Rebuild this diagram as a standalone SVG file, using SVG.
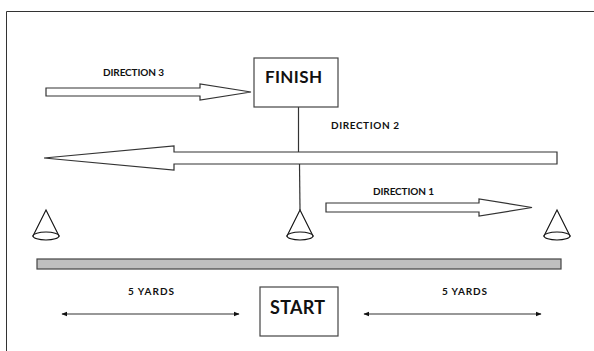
<svg xmlns="http://www.w3.org/2000/svg" width="594" height="351" viewBox="0 0 594 351">
<style>
.lbl{font-family:Lato,"Open Sans","Liberation Sans",sans-serif;font-weight:bold;fill:#111}
.s{font-size:10px}
.b{font-size:17px}
.arrow{fill:#fff;stroke:#333;stroke-width:1.2}
.box{fill:#fff;stroke:#444;stroke-width:1.2}
.line{stroke:#333;stroke-width:1.2;fill:none}
.cone{fill:#fff;stroke:#111;stroke-width:1.1}
</style>
<defs>
<marker id="ah" viewBox="0 0 10 10" refX="9" refY="5" markerWidth="5" markerHeight="5" orient="auto-start-reverse">
<path d="M0,1 L10,5 L0,9 z" fill="#111"/>
</marker>
</defs>
<rect width="594" height="351" fill="#fff"/>
<path d="M6.5,351 V11.5 H594" fill="none" stroke="#333" stroke-width="1"/>

<g id="connectors">
<line class="line" x1="298.5" y1="107" x2="298.5" y2="152"/>
<line class="line" x1="299.5" y1="164" x2="300" y2="210"/>
<line class="line" x1="62" y1="314" x2="239" y2="314" marker-start="url(#ah)" marker-end="url(#ah)"/>
<line class="line" x1="364" y1="314" x2="541" y2="314" marker-start="url(#ah)" marker-end="url(#ah)"/>
</g>

<g id="direction3">
<polygon class="arrow" points="46,88 200,88 200,84 251,92 200,100 200,96 46,96"/>
<text class="lbl s" x="103" y="75.5" textLength="61">DIRECTION 3</text>
</g>

<g id="direction2">
<polygon class="arrow" points="557,152 174,152 174,146 44,158 174,170 174,164 557,164"/>
<text class="lbl s" x="331" y="128.5" textLength="68">DIRECTION 2</text>
</g>

<g id="direction1">
<polygon class="arrow" points="326,203 479,203 479,199 532,207.5 479,216 479,212 326,212"/>
<text class="lbl s" x="373" y="194.5" textLength="61">DIRECTION 1</text>
</g>

<g id="finish">
<rect class="box" x="254" y="58" width="84" height="49"/>
<text class="lbl b" x="265" y="83" textLength="57">FINISH</text>
</g>

<g id="cone-left">
<path class="cone" d="M46,210 L33,236 L59,236 Z"/>
<ellipse class="cone" cx="46" cy="236" rx="13" ry="4"/>
</g>
<g id="cone-middle">
<path class="cone" d="M300,210 L287,236 L313,236 Z"/>
<ellipse class="cone" cx="300" cy="236" rx="13" ry="4"/>
</g>
<g id="cone-right">
<path class="cone" d="M557,210 L544,236 L570,236 Z"/>
<ellipse class="cone" cx="557" cy="236" rx="13" ry="4"/>
</g>

<g id="start-line">
<rect x="37" y="259" width="524" height="10" fill="#bfbfbf" stroke="#444" stroke-width="1.2"/>
</g>

<g id="start">
<rect class="box" x="260" y="287" width="78" height="49"/>
<text class="lbl" x="270" y="313.5" font-size="18" textLength="55">START</text>
</g>

<g id="yards-left">
<text class="lbl s" x="128" y="294.5" textLength="46">5 YARDS</text>
</g>
<g id="yards-right">
<text class="lbl s" x="442" y="294.5" textLength="45">5 YARDS</text>
</g>
</svg>
